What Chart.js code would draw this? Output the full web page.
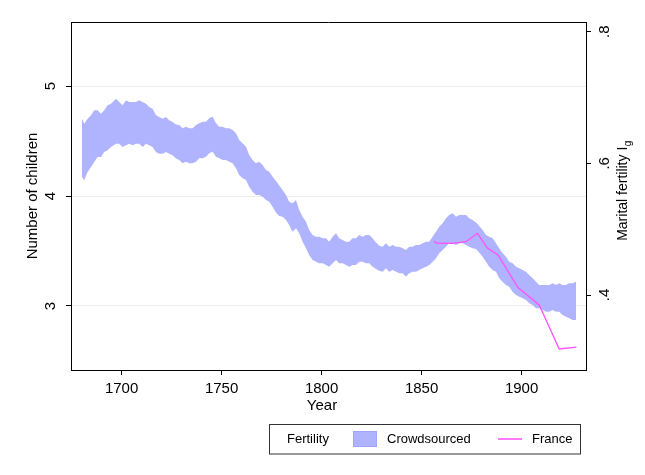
<!DOCTYPE html>
<html>
<head>
<meta charset="utf-8">
<script src="https://cdn.jsdelivr.net/npm/chart.js@4.4.1/dist/chart.umd.min.js"></script>
<style>
  body { margin: 0; background: #fff; }
</style>
</head>
<body>
<canvas id="myChart" width="645" height="475"></canvas>
<script>
// crowdsourced fertility band (number of children)
const years = [
  1680.2,1681.3,1683.0,1684.7,1686.3,1688.0,1689.7,1691.3,1693.0,1694.7,
  1697.2,1698.8,1700.5,1702.2,1703.8,1705.5,1707.2,1708.8,1710.5,1712.2,
  1713.8,1715.5,1717.2,1718.8,1720.5,1722.2,1723.8,1725.5,1727.2,1728.8,
  1730.5,1732.2,1733.8,1735.5,1737.2,1738.8,1740.5,1742.2,1743.8,1745.5,
  1747.2,1748.8,1750.5,1752.2,1753.8,1755.5,1757.2,1758.8,1760.5,1762.2,
  1763.8,1765.5,1767.2,1768.8,1770.5,1772.2,1773.8,1775.5,1777.2,1778.8,
  1780.5,1782.2,1783.8,1785.5,1787.2,1788.8,1790.5,1792.2,1793.8,1795.5,
  1797.2,1798.8,1800.5,1802.2,1803.8,1805.5,1807.2,1808.8,1810.5,1812.2,
  1813.8,1815.5,1817.2,1818.8,1820.5,1822.2,1823.8,1825.5,1827.2,1828.8,
  1830.5,1832.2,1833.8,1835.5,1837.2,1838.8,1840.5,1842.2,1843.8,1845.5,
  1847.2,1848.8,1850.5,1852.2,1853.8,1855.5,1857.2,1858.8,1860.5,1862.2,
  1863.8,1865.5,1867.2,1868.8,1870.5,1872.2,1873.8,1875.5,1877.2,1878.8,
  1880.5,1882.2,1883.8,1885.5,1887.2,1888.8,1890.5,1892.2,1893.8,1895.5,
  1897.2,1898.8,1900.5,1902.2,1903.8,1905.5,1907.2,1908.8,1910.5,1912.2,
  1913.8,1915.5,1917.2,1918.8,1920.5,1922.2,1923.8,1925.5,1927.2
];
const upper = [
  4.703,4.657,4.703,4.734,4.779,4.779,4.748,4.779,4.825,4.839,
  4.885,4.855,4.825,4.870,4.855,4.855,4.855,4.870,4.855,4.839,
  4.809,4.794,4.734,4.718,4.703,4.718,4.688,4.673,4.650,4.645,
  4.615,4.630,4.615,4.615,4.645,4.661,4.675,4.675,4.706,4.721,
  4.661,4.630,4.630,4.615,4.615,4.600,4.570,4.509,4.479,4.448,
  4.373,4.327,4.297,4.312,4.282,4.236,4.221,4.175,4.136,4.095,
  4.055,4.009,3.948,3.934,3.964,3.873,3.812,3.766,3.691,3.645,
  3.630,3.630,3.615,3.615,3.585,3.630,3.661,3.615,3.600,3.585,
  3.585,3.615,3.615,3.645,3.630,3.645,3.645,3.615,3.577,3.547,
  3.539,3.570,3.539,3.555,3.539,3.539,3.525,3.509,3.539,3.539,
  3.555,3.555,3.570,3.585,3.585,3.630,3.675,3.721,3.752,3.797,
  3.827,3.843,3.812,3.827,3.827,3.827,3.797,3.782,3.759,3.727,
  3.691,3.645,3.630,3.615,3.570,3.525,3.479,3.448,3.403,3.388,
  3.357,3.343,3.327,3.312,3.282,3.252,3.221,3.191,3.191,3.191,
  3.191,3.206,3.191,3.206,3.191,3.191,3.206,3.206,3.221
];
const lower = [
  4.173,4.143,4.218,4.264,4.309,4.355,4.355,4.400,4.415,4.445,
  4.475,4.475,4.445,4.461,4.475,4.461,4.475,4.475,4.445,4.475,
  4.461,4.445,4.400,4.385,4.385,4.400,4.385,4.370,4.341,4.327,
  4.297,4.312,4.297,4.297,4.312,4.343,4.343,4.357,4.388,4.403,
  4.357,4.343,4.327,4.327,4.312,4.297,4.252,4.191,4.161,4.145,
  4.085,4.039,4.009,4.009,3.994,3.964,3.948,3.903,3.850,3.818,
  3.812,3.782,3.736,3.675,3.706,3.661,3.585,3.525,3.464,3.418,
  3.403,3.388,3.388,3.373,3.357,3.388,3.418,3.388,3.388,3.373,
  3.357,3.373,3.373,3.403,3.403,3.388,3.388,3.357,3.336,3.320,
  3.312,3.343,3.312,3.327,3.312,3.297,3.297,3.266,3.297,3.312,
  3.312,3.327,3.343,3.357,3.373,3.403,3.434,3.479,3.509,3.539,
  3.570,3.570,3.555,3.570,3.570,3.555,3.539,3.525,3.518,3.486,
  3.448,3.403,3.357,3.327,3.312,3.252,3.221,3.191,3.175,3.130,
  3.100,3.085,3.070,3.055,3.025,3.009,2.979,2.979,2.964,2.948,
  2.948,2.964,2.948,2.948,2.918,2.903,2.888,2.873,2.873
];

// France marital fertility Ig (right axis)
const franceYears = [1856.3,1857.2,1865.5,1872.2,1877.9,1882.9,1888.2,1898.2,1908.8,1918.8,1927.4];
const franceIg = [0.482,0.479,0.4785,0.481,0.4937,0.4714,0.4608,0.4114,0.3848,0.318,0.321];

// ticks
const xTicks = [1700,1750,1800,1850,1900];
const leftTicks = [3,4,5];
const rightTicks = [0.4,0.6,0.8];
const rightTickLabels = ['.4','.6','.8'];

const FONT = '"Liberation Sans", Arial, Helvetica, sans-serif';
const bandColor = 'rgb(176,180,255)';
const franceColor = 'rgb(255,80,255)';

const toXY = (xs, ys) => xs.map((x, i) => ({ x: x, y: ys[i] }));

// draws rotated tick labels, axis titles, the top frame line and the legend box
const decorations = {
  id: 'decorations',
  afterDraw(chart) {
    const ctx = chart.ctx;
    const area = chart.chartArea;
    const yL = chart.scales.y;
    const yR = chart.scales.y2;
    ctx.save();
    ctx.strokeStyle = '#000';
    ctx.lineWidth = 1;
    ctx.beginPath();
    ctx.moveTo(area.left, area.top + 0.5);
    ctx.lineTo(area.right, area.top + 0.5);
    ctx.stroke();

    ctx.fillStyle = '#000';
    ctx.font = '14px ' + FONT;
    ctx.textAlign = 'center';
    ctx.textBaseline = 'middle';

    const vtext = (txt, x, y) => {
      ctx.save();
      ctx.translate(x, y);
      ctx.rotate(-Math.PI / 2);
      ctx.fillText(txt, 0, 0);
      ctx.restore();
    };
    ctx.font = '15px ' + FONT;
    leftTicks.forEach(v => vtext(String(v), 51, yL.getPixelForValue(v)));
    rightTicks.forEach((v, i) => vtext(rightTickLabels[i], 605, yR.getPixelForValue(v)));

    vtext('Number of children', 33, (area.top + area.bottom) / 2);

    // right title with subscript g
    ctx.save();
    ctx.translate(623, 191);
    ctx.rotate(-Math.PI / 2);
    const main = 'Marital fertility I';
    ctx.font = '14px ' + FONT;
    const w1 = ctx.measureText(main).width;
    ctx.font = '10px ' + FONT;
    const w2 = ctx.measureText('g').width;
    const start = -(w1 + w2) / 2;
    ctx.textAlign = 'left';
    ctx.font = '14px ' + FONT;
    ctx.fillText(main, start, 0);
    ctx.font = '10px ' + FONT;
    ctx.fillText('g', start + w1 + 0.5, 5);
    ctx.restore();

    ctx.font = '15px ' + FONT;
    ctx.fillText('Year', 322, 406);

    // legend
    ctx.font = '13px ' + FONT;
    ctx.strokeStyle = '#333';
    ctx.strokeRect(269.5, 424.5, 311, 29.5);
    ctx.textAlign = 'left';
    ctx.fillText('Fertility', 287, 439.5);
    ctx.fillStyle = bandColor;
    ctx.fillRect(353, 431, 24, 16);
    ctx.strokeStyle = 'rgb(160,165,250)';
    ctx.strokeRect(353.5, 431.5, 23, 15);
    ctx.fillStyle = '#000';
    ctx.fillText('Crowdsourced', 387, 439.5);
    ctx.strokeStyle = franceColor;
    ctx.lineWidth = 1.5;
    ctx.beginPath();
    ctx.moveTo(498, 439);
    ctx.lineTo(522, 439);
    ctx.stroke();
    ctx.fillText('France', 532, 439.5);
    ctx.restore();
  }
};

const data = {
  datasets: [
    {
      label: 'Crowdsourced upper',
      data: toXY(years, upper),
      borderWidth: 0,
      borderColor: bandColor,
      backgroundColor: bandColor,
      pointRadius: 0,
      fill: '+1',
      yAxisID: 'y',
      order: 2
    },
    {
      label: 'Crowdsourced lower',
      data: toXY(years, lower),
      borderWidth: 0,
      borderColor: bandColor,
      backgroundColor: bandColor,
      pointRadius: 0,
      fill: false,
      yAxisID: 'y',
      order: 2
    },
    {
      label: 'France',
      data: toXY(franceYears, franceIg),
      borderColor: franceColor,
      borderWidth: 1.3,
      pointRadius: 0,
      fill: false,
      tension: 0,
      yAxisID: 'y2',
      order: 0
    }
  ]
};

const config = {
  type: 'line',
  data,
  options: {
    responsive: false,
    animation: false,
    devicePixelRatio: 1,
    layout: { padding: { top: 22, left: 0, right: 0, bottom: 0 } },
    plugins: {
      legend: { display: false },
      tooltip: { enabled: false }
    },
    scales: {
      x: {
        type: 'linear',
        position: 'bottom',
        min: 1674.7,
        max: 1932.2,
        afterBuildTicks: s => { s.ticks = xTicks.map(v => ({ value: v })); },
        afterFit: s => { s.height = 105; },
        ticks: {
          color: '#000',
          font: { size: 15, family: FONT },
          padding: 5,
          maxRotation: 0,
          autoSkip: false,
          callback: v => String(v)
        },
        grid: { drawOnChartArea: false, tickLength: 5, tickColor: '#000' },
        border: { color: '#000', width: 1 }
      },
      y: {
        position: 'left',
        min: 2.418,
        max: 5.582,
        afterBuildTicks: s => { s.ticks = leftTicks.map(v => ({ value: v })); },
        afterFit: s => { s.width = 71; },
        ticks: { display: false },
        grid: { color: '#ededed', tickLength: 5, tickColor: '#000' },
        border: { color: '#000', width: 1 }
      },
      y2: {
        position: 'right',
        min: 0.2861,
        max: 0.8147,
        afterBuildTicks: s => { s.ticks = rightTicks.map(v => ({ value: v })); },
        afterFit: s => { s.width = 59; },
        ticks: { display: false },
        grid: { drawOnChartArea: false, tickLength: 5, tickColor: '#000' },
        border: { color: '#000', width: 1 }
      }
    }
  },
  plugins: [decorations]
};

const myChart = new Chart(document.getElementById('myChart'), config);
</script>
</body>
</html>
